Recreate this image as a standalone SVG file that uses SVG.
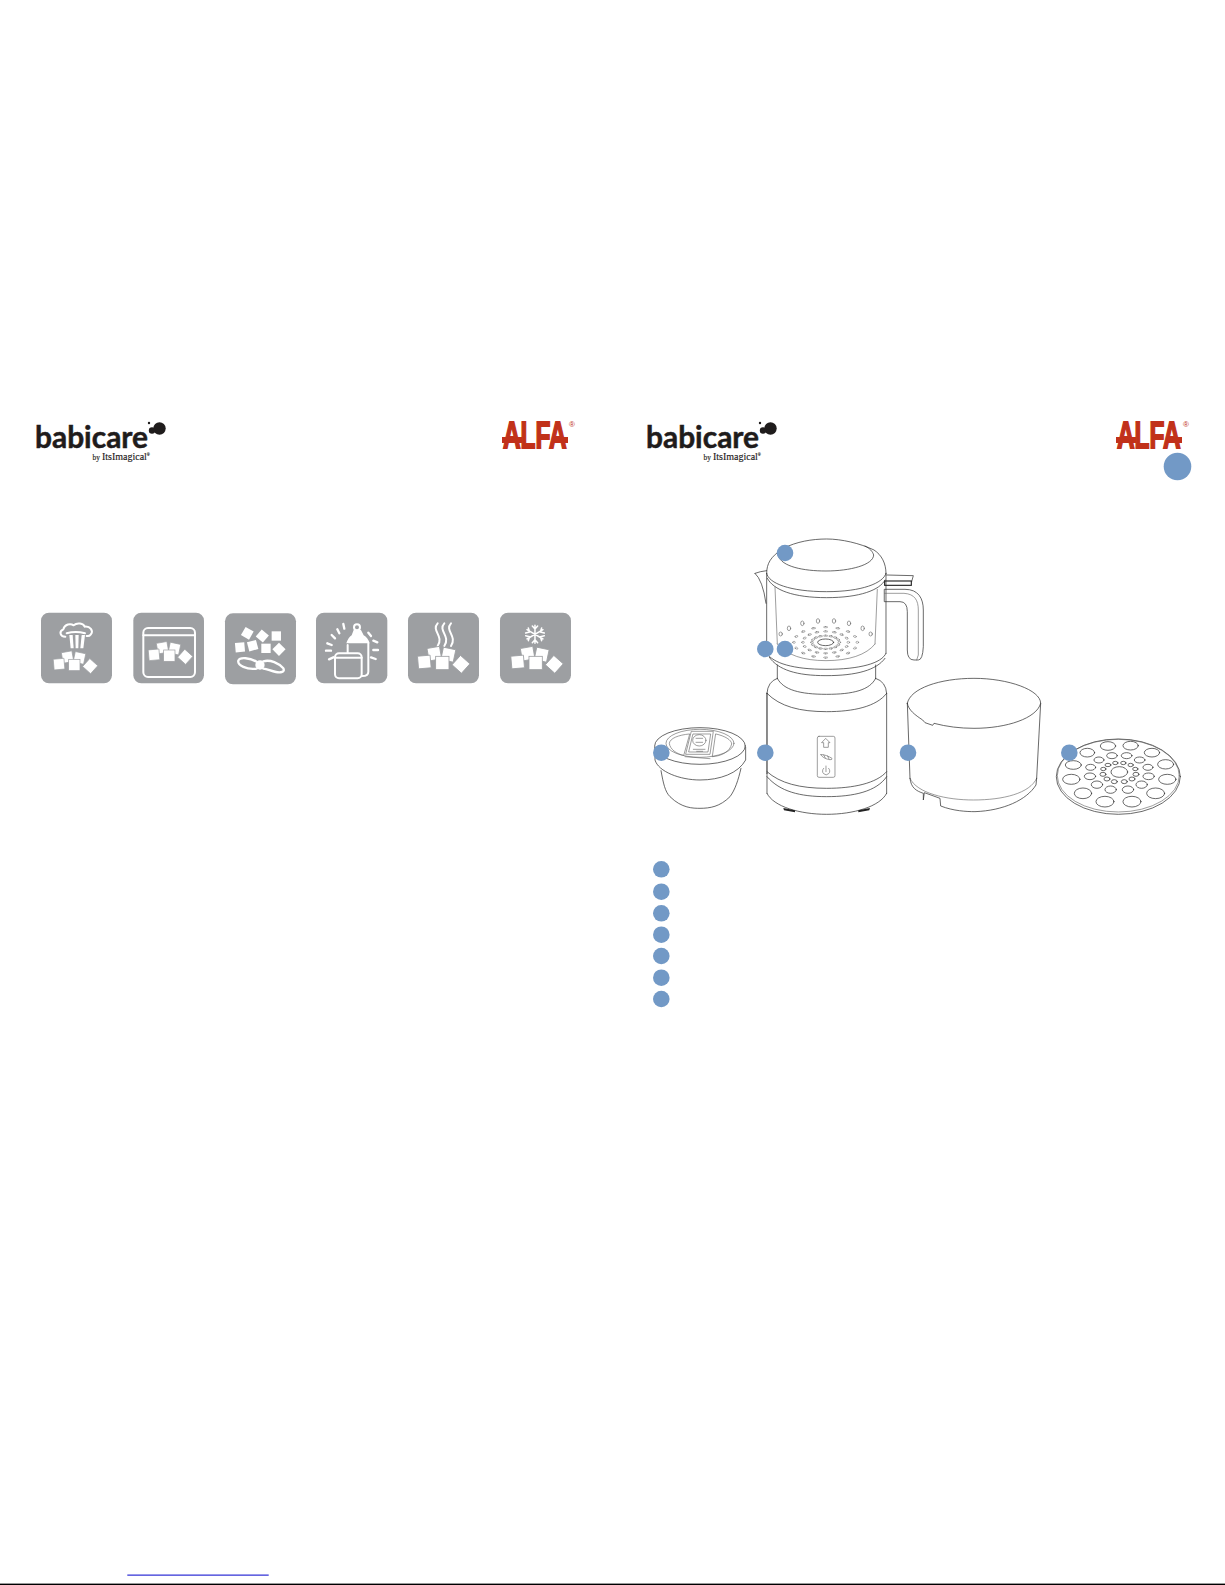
<svg xmlns="http://www.w3.org/2000/svg" xmlns:xlink="http://www.w3.org/1999/xlink" width="1225" height="1585" viewBox="0 0 1225 1585">
<style>
.bg{fill:#9d9fa2}
.w{fill:#fff;stroke:none}
.c{fill:#fff;stroke:#9d9fa2;stroke-width:2.5}
.ws{fill:none;stroke:#fff;stroke-width:6;stroke-linecap:round;stroke-linejoin:round}
.ln{fill:none;stroke:#333;stroke-width:2.2;stroke-linecap:round;stroke-linejoin:round}
.thin{fill:none;stroke:#666;stroke-width:1.9;stroke-linecap:round;stroke-linejoin:round}
.bk{fill:none;stroke:#222;stroke-width:3.4}
.dot{fill:#7299c6}
.brand{font-family:"Lato","Liberation Sans",sans-serif;font-weight:700;font-size:30px;fill:#1f1c1c;stroke:#1f1c1c;stroke-width:.5}
.by{font-family:"Liberation Serif",serif;font-size:10px;fill:#1f1c1c;stroke:#1f1c1c;stroke-width:.15}
.alfa{font-family:"Liberation Sans",sans-serif;font-weight:700;font-size:37px;fill:#c1311a;stroke:#c1311a;stroke-width:1.8}
.reg{font-family:"Liberation Sans",sans-serif;font-size:8px;fill:#c1311a}
.red{fill:#c1311a}
.blob{fill:#1f1c1c}
</style>
<defs>
<g id="cubes">
<rect x="-43" y="-47" width="38" height="38" transform="rotate(-10 -24 -28)" class="c"/>
<rect x="-1" y="-44" width="38" height="38" transform="rotate(12 18 -25)" class="c"/>
<rect x="-73" y="-22" width="38" height="38" transform="rotate(-5 -54 -3)" class="c"/>
<rect x="-20" y="-20" width="40" height="40" class="c"/>
<rect x="37" y="-15" width="38" height="38" transform="rotate(42 56 4)" class="c"/>
</g>
<g id="holeray">
<ellipse cx="41" cy="0" rx="4" ry="6.5" class="thin"/>
<ellipse cx="68" cy="0" rx="4" ry="6.5" class="thin"/>
<ellipse cx="95" cy="0" rx="4" ry="6.5" class="thin"/>
</g>
</defs>

<g id="logo-babicare-left">
<text x="35" y="447.5" class="brand" textLength="113" lengthAdjust="spacingAndGlyphs">babicare</text>
<circle cx="159.5" cy="428.5" r="6.2" class="blob"/><circle cx="152" cy="430.5" r="3.2" class="blob"/><circle cx="149" cy="423" r="1.2" class="blob"/>
<text x="92.5" y="460" class="by"><tspan font-size="7.5">by </tspan><tspan>ItsImagical</tspan><tspan font-size="4" dy="-4">®</tspan></text>
</g>
<g id="logo-alfa-left">
<rect x="502" y="437" width="20" height="6" class="red"/><rect x="552" y="437" width="16" height="6" class="red"/>
<text transform="translate(503 448) scale(.66 1)" class="alfa">ALFA</text>
<text x="569" y="426.5" class="reg">®</text>
</g>
<g id="logo-babicare-right">
<text x="646" y="447.5" class="brand" textLength="113" lengthAdjust="spacingAndGlyphs">babicare</text>
<circle cx="770.5" cy="428.5" r="6.2" class="blob"/><circle cx="763" cy="430.5" r="3.2" class="blob"/><circle cx="760" cy="423" r="1.2" class="blob"/>
<text x="703.5" y="460" class="by"><tspan font-size="7.5">by </tspan><tspan>ItsImagical</tspan><tspan font-size="4" dy="-4">®</tspan></text>
</g>
<g id="logo-alfa-right">
<rect x="1116" y="437" width="20" height="6" class="red"/><rect x="1166" y="437" width="16" height="6" class="red"/>
<text transform="translate(1117 448) scale(.66 1)" class="alfa">ALFA</text>
<text x="1183" y="426.5" class="reg">®</text>
</g>
<circle id="page-badge" cx="1177.5" cy="466.5" r="13.8" class="dot"/>

<g id="icons-a" transform="translate(30 600) scale(.3333)">
<g id="icon-steam-hat">
<rect x="33" y="38" width="213" height="212" rx="24" class="bg"/>
<path class="ws" d="M106,110C90,110 86,94 100,88C104,72 122,70 131,76C142,66 160,70 164,80C180,78 192,92 182,104C179,108 175,109 170,108M110,100Q137,92 165,100"/>
<polygon class="w" points="118,105 128,105 131,145 122,145"/><polygon class="w" points="136,105 146,105 145,145 137,145"/><polygon class="w" points="155,105 165,105 160,145 151,145"/>
<use xlink:href="#cubes" href="#cubes" transform="translate(133 195) scale(.85)"/>
</g>
<g id="icon-container">
<rect x="310" y="38" width="212" height="212" rx="24" class="bg"/>
<rect x="340" y="84" width="155" height="147" rx="14" class="ws"/>
<path class="ws" d="M340,106H495"/>
<use xlink:href="#cubes" href="#cubes" transform="translate(418 167) scale(.85)"/>
</g>
<g id="icon-blend">
<rect x="585" y="40" width="213" height="213" rx="24" class="bg"/>
<rect x="638" y="86" width="28" height="28" transform="rotate(30 652 100)" class="w"/>
<rect x="683" y="94" width="28" height="28" transform="rotate(40 697 108)" class="w"/>
<rect x="725" y="94" width="28" height="28" class="w"/>
<rect x="616" y="128" width="28" height="28" transform="rotate(-5 630 142)" class="w"/>
<rect x="654" y="123" width="28" height="28" transform="rotate(-15 668 137)" class="w"/>
<rect x="694" y="131" width="28" height="28" class="w"/>
<rect x="733" y="134" width="28" height="28" transform="rotate(45 747 148)" class="w"/>
<path class="ws" style="stroke-width:7" d="M680,185C660,174 630,170 625,182C622,196 650,210 680,206M700,184C722,178 746,190 760,205C766,216 752,219 738,216C722,213 712,207 700,206"/>
<circle cx="690" cy="195" r="14" class="w"/>
</g>
</g>
<g id="icons-b" transform="translate(305 600) scale(.3333)">
<g id="icon-bottle">
<rect x="33" y="38" width="214" height="212" rx="24" class="bg"/>
<path class="ws" style="stroke-width:7" d="M63,152H78M67,130L80,135M80,105L90,115M97,88L103,100M115,72L118,86M190,98L198,108M205,122L217,127M205,150H219M198,172L212,177M72,178L85,172"/>
<path class="ws" d="M128,165V135M190,130V215Q190,228 172,228"/>
<path class="w" d="M124,130Q130,112 140,106L146,90H168L176,106Q188,112 194,130Z"/>
<circle cx="156" cy="82" r="9" class="ws"/>
<rect x="90" y="160" width="80" height="75" rx="12" class="ws" style="fill:#9d9fa2"/>
<path class="ws" d="M90,173H170"/>
</g>
<g id="icon-heat">
<rect x="309" y="38" width="213" height="212" rx="24" class="bg"/>
<path class="ws" d="M398,70C378,92 418,108 398,138M418,70C398,92 438,108 418,138M438,70C418,92 458,108 438,138"/>
<use xlink:href="#cubes" href="#cubes" transform="translate(412 189)"/>
</g>
<g id="icon-freeze">
<rect x="585" y="38" width="213" height="212" rx="24" class="bg"/>
<path class="ws" style="stroke-width:4.5" d="M690,76V130M666,89L714,117M666,117L714,89M682,78L690,87L698,78M682,128L690,119L698,128M662,99L674,96L670,84M718,107L706,110L710,122M662,107L674,110L670,122M718,99L706,96L710,84"/>
<use xlink:href="#cubes" href="#cubes" transform="translate(692 189)"/>
</g>
</g>

<g id="jug" transform="translate(750 530) scale(.3333)">
<path class="ln" d="M50,130C50,100 62,80 100,55C140,35 185,27 230,27C275,27 330,40 372,60C395,75 408,100 408,130"/>
<path class="ln" d="M85,78C95,110 160,123 228,123C300,123 370,105 371,75C368,65 360,55 345,48"/>
<path class="ln" d="M50,130C55,160 120,185 230,185C335,185 400,160 408,130"/>
<path class="ln" d="M52,145C70,180 130,203 230,203C330,203 390,180 405,150"/>
<path class="ln" d="M50,130V355M408,130V370"/>
<path class="thin" d="M75,170L82,342M382,178L375,342M82,342C110,375 160,392 228,392C295,392 350,375 375,342"/>
<path class="ln" d="M15,130Q30,124 50,122M15,130Q38,150 48,220"/>
<path class="ln" d="M50,370C70,400 130,418 228,418C330,418 395,400 408,370M58,382C85,420 140,437 228,437C320,437 380,420 405,385"/>
<path class="ln" d="M410,135L490,137L485,155"/>
<rect x="404" y="153" width="80" height="13" class="bk"/>
<path class="ln" d="M404,178H465C505,178 520,205 520,240V350Q518,390 505,390H492Q472,390 472,360V245Q472,215 450,215H404Z"/>
<path class="thin" d="M404,190H462C495,192 505,212 505,240V375L500,390"/>
<ellipse cx="227" cy="337" rx="24" ry="10" class="ln"/>
<g transform="translate(227 337) scale(1 .48)">
<use xlink:href="#holeray" href="#holeray"/><use xlink:href="#holeray" href="#holeray" transform="rotate(22.5)"/><use xlink:href="#holeray" href="#holeray" transform="rotate(45)"/><use xlink:href="#holeray" href="#holeray" transform="rotate(67.5)"/><use xlink:href="#holeray" href="#holeray" transform="rotate(90)"/><use xlink:href="#holeray" href="#holeray" transform="rotate(112.5)"/><use xlink:href="#holeray" href="#holeray" transform="rotate(135)"/><use xlink:href="#holeray" href="#holeray" transform="rotate(157.5)"/><use xlink:href="#holeray" href="#holeray" transform="rotate(180)"/><use xlink:href="#holeray" href="#holeray" transform="rotate(202.5)"/><use xlink:href="#holeray" href="#holeray" transform="rotate(225)"/><use xlink:href="#holeray" href="#holeray" transform="rotate(247.5)"/><use xlink:href="#holeray" href="#holeray" transform="rotate(270)"/><use xlink:href="#holeray" href="#holeray" transform="rotate(292.5)"/><use xlink:href="#holeray" href="#holeray" transform="rotate(315)"/><use xlink:href="#holeray" href="#holeray" transform="rotate(337.5)"/>
</g>
<g class="thin"><ellipse cx="157" cy="280" rx="5" ry="7"/><ellipse cx="204" cy="273" rx="5" ry="7"/><ellipse cx="252" cy="273" rx="5" ry="7"/><ellipse cx="297" cy="280" rx="5" ry="7"/><ellipse cx="338" cy="295" rx="5" ry="7"/><ellipse cx="362" cy="312" rx="5" ry="6"/><ellipse cx="92" cy="312" rx="5" ry="6"/><ellipse cx="117" cy="295" rx="5" ry="7"/></g>
</g>

<g id="motor-base" transform="translate(640 660) scale(.3333)">
<path class="ln" d="M412,15V55M707,15V55M412,55C430,90 480,103 560,103C640,103 690,90 707,55"/>
<path class="ln" d="M381,100Q383,65 412,55M740,100Q738,65 707,55"/>
<path class="ln" style="stroke-width:3.4" d="M381,100V340"/>
<path class="ln" d="M381,340V400M740,100V400"/>
<path class="ln" d="M381,100C420,140 480,155 560,155C640,155 710,140 740,100"/>
<path class="ln" d="M381,335C420,370 480,385 560,385C640,385 710,370 740,335M381,350C420,395 480,410 560,410C640,410 710,395 740,350"/>
<path class="ln" d="M381,400C400,440 480,463 560,463C640,463 720,440 740,400"/>
<path d="M430,444L465,451V457L432,451ZM655,457V451L690,444L688,451Z" fill="#222"/>
<rect x="532" y="229" width="53" height="123" rx="5" class="thin"/>
<path class="thin" d="M558,236L570,248H565V262H551V248H546Z"/>
<path class="thin" d="M543,284C552,282 568,290 576,295Q577,300 570,299C560,298 545,292 543,284ZM551,285L556,294M563,288L567,297"/>
<path class="thin" d="M551,325A11,11 0 1 0 566,325M558,318V335"/>
</g>

<g id="small-cup" transform="translate(640 660) scale(.3333)">
<ellipse cx="180" cy="258" rx="136" ry="55" class="ln"/>
<path class="ln" d="M45,262V300C55,335 120,360 180,360C240,360 295,340 317,300V262"/>
<path class="ln" d="M63,332C70,370 75,395 90,410C125,445 160,445 180,445C210,445 240,440 270,410C285,390 295,360 303,325"/>
<ellipse cx="180" cy="250" rx="102" ry="42" class="thin"/>
<path class="thin" d="M148,222C115,225 90,235 88,250C90,268 110,282 130,286ZM228,222C255,228 275,240 275,252C270,275 245,288 218,290Z"/>
<path class="thin" d="M155,214H220L210,283H138ZM160,222H212L204,276H147Z"/>
<ellipse cx="178" cy="241" rx="20" ry="17" class="thin"/>
<path class="thin" d="M168,235H188M168,247H188M160,268H195M170,274H188M135,290L210,296"/>
</g>

<g id="bowl" transform="translate(890 660) scale(.3333)">
<path class="ln" d="M52,130C60,85 150,55 252,55C355,55 452,90 452,130C440,175 350,205 252,205C210,205 170,200 132,190L128,196L105,188L98,180C75,165 55,150 52,130Z"/>
<path class="ln" d="M52,130L60,355M452,130L440,355"/>
<path class="thin" d="M60,355C80,400 170,420 250,420C340,420 420,400 440,355"/>
<path class="ln" d="M60,355C63,385 80,393 100,400L100,420L103,398L150,415L152,438C190,453 230,455 255,455C340,452 410,420 438,375L440,355"/>
</g>

<g id="steam-disc" transform="translate(890 660) scale(.3333)">
<ellipse cx="685" cy="350" rx="186" ry="113" class="ln"/>
<ellipse cx="685" cy="347" rx="183" ry="109" class="thin"/>
<g class="ln">
<ellipse cx="592" cy="278" rx="22" ry="13"/><ellipse cx="654" cy="258" rx="23" ry="13"/><ellipse cx="722" cy="257" rx="23" ry="13"/><ellipse cx="786" cy="278" rx="23" ry="13"/><ellipse cx="827" cy="313" rx="24" ry="14"/><ellipse cx="832" cy="358" rx="26" ry="15"/><ellipse cx="797" cy="400" rx="27" ry="16"/><ellipse cx="726" cy="425" rx="27" ry="16"/><ellipse cx="645" cy="425" rx="27" ry="16"/><ellipse cx="579" cy="400" rx="26" ry="16"/><ellipse cx="544" cy="358" rx="26" ry="15"/><ellipse cx="550" cy="315" rx="24" ry="13"/>
<ellipse cx="627" cy="300" rx="15" ry="9"/><ellipse cx="666" cy="287" rx="16" ry="9"/><ellipse cx="710" cy="287" rx="16" ry="9"/><ellipse cx="749" cy="300" rx="16" ry="9"/><ellipse cx="774" cy="322" rx="15" ry="9"/><ellipse cx="776" cy="349" rx="17" ry="10"/><ellipse cx="755" cy="374" rx="17" ry="11"/><ellipse cx="714" cy="389" rx="17" ry="11"/><ellipse cx="662" cy="389" rx="17" ry="11"/><ellipse cx="621" cy="374" rx="17" ry="11"/><ellipse cx="600" cy="349" rx="17" ry="10"/><ellipse cx="602" cy="322" rx="15" ry="9"/>
<ellipse cx="654" cy="315" rx="9" ry="5"/><ellipse cx="676" cy="309" rx="8" ry="5"/><ellipse cx="700" cy="309" rx="8" ry="5"/><ellipse cx="722" cy="315" rx="8" ry="5"/><ellipse cx="736" cy="327" rx="8" ry="5"/><ellipse cx="738" cy="343" rx="9" ry="6"/><ellipse cx="726" cy="357" rx="9" ry="6"/><ellipse cx="703" cy="365" rx="9" ry="6"/><ellipse cx="673" cy="365" rx="9" ry="6"/><ellipse cx="651" cy="357" rx="9" ry="6"/><ellipse cx="639" cy="343" rx="9" ry="6"/><ellipse cx="640" cy="327" rx="8" ry="5"/>
<ellipse cx="688" cy="336" rx="25" ry="16"/>
</g>
</g>

<g id="callouts">
<circle cx="785" cy="553" r="8.3" class="dot"/>
<circle cx="765.3" cy="649" r="8.3" class="dot"/>
<circle cx="785" cy="649" r="8.3" class="dot"/>
<circle cx="661.3" cy="752.7" r="8.3" class="dot"/>
<circle cx="765.3" cy="752.7" r="8.3" class="dot"/>
<circle cx="908" cy="752.7" r="8.3" class="dot"/>
<circle cx="1069.3" cy="752.7" r="8.3" class="dot"/>
</g>
<g id="legend">
<circle cx="661.3" cy="869.3" r="8.3" class="dot"/>
<circle cx="661.3" cy="891.7" r="8.3" class="dot"/>
<circle cx="661.3" cy="913.3" r="8.3" class="dot"/>
<circle cx="661.3" cy="934.7" r="8.3" class="dot"/>
<circle cx="661.3" cy="956" r="8.3" class="dot"/>
<circle cx="661.3" cy="977.7" r="8.3" class="dot"/>
<circle cx="661.3" cy="999" r="8.3" class="dot"/>
</g>
<g id="footer">
<rect x="127.3" y="1574.6" width="141.4" height="1" fill="#0000cc"/>
<rect x="0" y="1583.6" width="1225" height="1.4" fill="#000"/>
</g>
</svg>
